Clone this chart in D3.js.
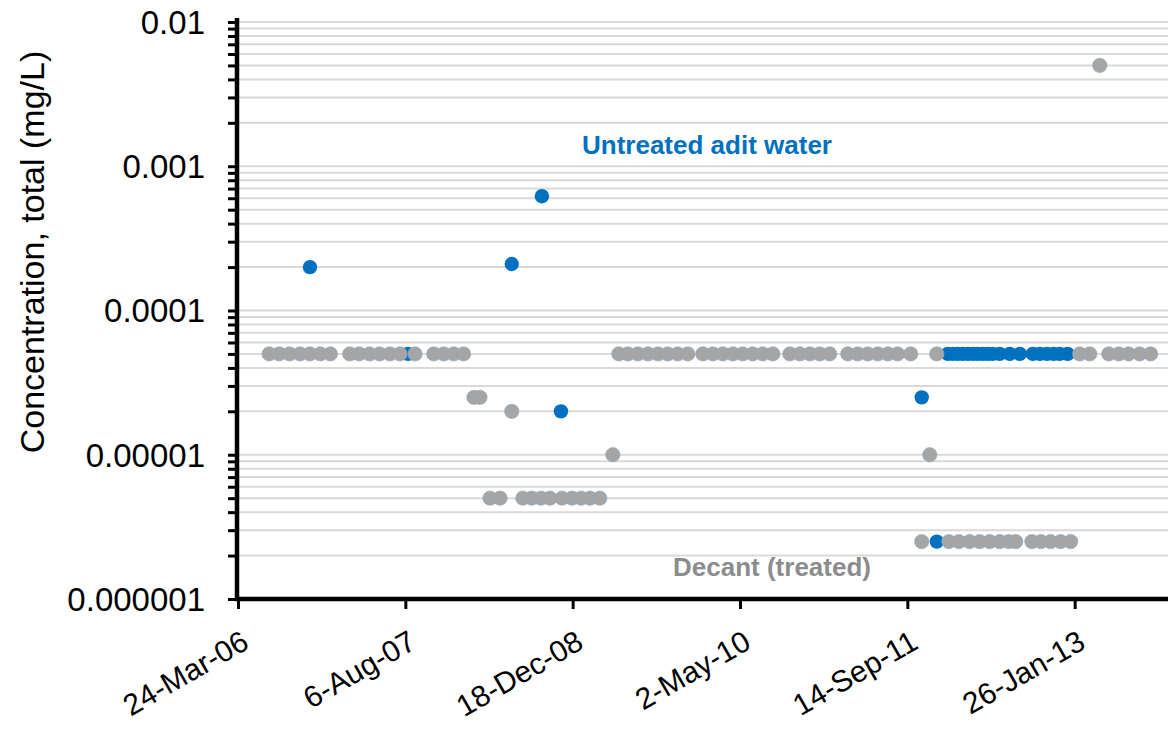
<!DOCTYPE html>
<html>
<head>
<meta charset="utf-8">
<script src="https://cdn.jsdelivr.net/npm/d3@7"></script>
<style>
  html, body { margin: 0; padding: 0; background: #fff; }
  svg { display: block; }
</style>
</head>
<body>
<svg id="chart" width="1168" height="736"></svg>
<script>
// ---- data ----
const untreatedDates = [
  "2006-10-25", "2007-08-14", "2008-06-19", "2008-09-17", "2008-11-13",
  "2011-10-27", "2011-12-11",
  "2012-01-13", "2012-01-28", "2012-02-12", "2012-02-27", "2012-03-13", "2012-03-28",
  "2012-04-11", "2012-04-26", "2012-05-11", "2012-05-26", "2012-06-16", "2012-07-16",
  "2012-08-15", "2012-09-23", "2012-10-14", "2012-11-04", "2012-11-24", "2012-12-12",
  "2013-01-05"
];
const untreatedValues = [
  0.0002, 0.00005, 0.00021, 0.00062, 0.00002,
  0.000025, 0.0000025,
  0.00005, 0.00005, 0.00005, 0.00005, 0.00005, 0.00005,
  0.00005, 0.00005, 0.00005, 0.00005, 0.00005, 0.00005,
  0.00005, 0.00005, 0.00005, 0.00005, 0.00005, 0.00005,
  0.00005
];

const decantDates = [
  "2006-06-25", "2006-07-25", "2006-08-25", "2006-09-25", "2006-10-25", "2006-11-25", "2006-12-25",
  "2007-02-21", "2007-03-21", "2007-04-21", "2007-05-21", "2007-06-21", "2007-07-21",
  "2007-09-04", "2007-10-30", "2007-11-29", "2007-12-29", "2008-01-27",
  "2008-02-27", "2008-03-16",
  "2008-04-15", "2008-05-15",
  "2008-06-19",
  "2008-07-22", "2008-08-18", "2008-09-14", "2008-10-11", "2008-11-16", "2008-12-16",
  "2009-01-12", "2009-02-08", "2009-03-09",
  "2009-04-17",
  "2009-05-05", "2009-06-01", "2009-07-01", "2009-07-31", "2009-08-30", "2009-09-28",
  "2009-10-28", "2009-11-27",
  "2010-01-11", "2010-02-10", "2010-03-12", "2010-04-11", "2010-05-10", "2010-06-09",
  "2010-07-09", "2010-08-08",
  "2010-09-28", "2010-10-28", "2010-11-27", "2010-12-26", "2011-01-25",
  "2011-03-20", "2011-04-19", "2011-05-19", "2011-06-18", "2011-07-18", "2011-08-16",
  "2011-09-24",
  "2011-10-27", "2011-11-20", "2011-12-11",
  "2012-01-16", "2012-02-15", "2012-03-18", "2012-04-17", "2012-05-17", "2012-06-16",
  "2012-07-13", "2012-08-03", "2012-09-20", "2012-10-17", "2012-11-15", "2012-12-15",
  "2013-01-14",
  "2013-02-10", "2013-03-12", "2013-04-11",
  "2013-05-08", "2013-06-07", "2013-07-06", "2013-08-08", "2013-09-10"
];
const decantValues = [
  0.00005, 0.00005, 0.00005, 0.00005, 0.00005, 0.00005, 0.00005,
  0.00005, 0.00005, 0.00005, 0.00005, 0.00005, 0.00005,
  0.00005, 0.00005, 0.00005, 0.00005, 0.00005,
  0.000025, 0.000025,
  0.000005, 0.000005,
  0.00002,
  0.000005, 0.000005, 0.000005, 0.000005, 0.000005, 0.000005,
  0.000005, 0.000005, 0.000005,
  0.00001,
  0.00005, 0.00005, 0.00005, 0.00005, 0.00005, 0.00005,
  0.00005, 0.00005,
  0.00005, 0.00005, 0.00005, 0.00005, 0.00005, 0.00005,
  0.00005, 0.00005,
  0.00005, 0.00005, 0.00005, 0.00005, 0.00005,
  0.00005, 0.00005, 0.00005, 0.00005, 0.00005, 0.00005,
  0.00005,
  0.0000025, 0.00001, 0.00005,
  0.0000025, 0.0000025, 0.0000025, 0.0000025, 0.0000025, 0.0000025,
  0.0000025, 0.0000025, 0.0000025, 0.0000025, 0.0000025, 0.0000025,
  0.0000025,
  0.00005, 0.00005, 0.005,
  0.00005, 0.00005, 0.00005, 0.00005, 0.00005
];

const xDomain = ["2006-03-24", "2014-06-10"];
const xTickLabels = ["24-Mar-06", "6-Aug-07", "18-Dec-08", "2-May-10", "14-Sep-11", "26-Jan-13"];
const yDomain = [0.000001, 0.01];
const yTickLabels = ["0.000001", "0.00001", "0.0001", "0.001", "0.01"];
const seriesLabels = ["Untreated adit water", "Decant (treated)"];
const yTitle = "Concentration, total (mg/L)";

// ---- drawing ----
const parse = d3.utcParse("%Y-%m-%d");
const svg = d3.select("#chart");
const W = 1168, H = 736;
const plot = { left: 237, top: 22, right: 1242, bottom: 599 };

const x = d3.scaleUtc().domain(xDomain.map(parse)).range([plot.left + 1, plot.right]);
const y = d3.scaleLog().domain(yDomain).range([plot.bottom, plot.top]);

const font = "'Liberation Sans', Arial, sans-serif";

// gridlines at every minor/major log tick
const gridVals = y.ticks();
svg.append("g")
  .selectAll("line")
  .data(gridVals)
  .join("line")
  .attr("x1", plot.left)
  .attr("x2", W)
  .attr("y1", d => y(d))
  .attr("y2", d => y(d))
  .attr("stroke", "#d9d9d9")
  .attr("stroke-width", 2);

// points
const untreated = untreatedDates.map((d, i) => ({ date: parse(d), v: untreatedValues[i] }));
const decant = decantDates.map((d, i) => ({ date: parse(d), v: decantValues[i] }));

svg.append("g")
  .selectAll("circle")
  .data(untreated)
  .join("circle")
  .attr("cx", d => x(d.date))
  .attr("cy", d => y(d.v))
  .attr("r", 7.2)
  .attr("fill", "#0070C0");

svg.append("g")
  .selectAll("circle")
  .data(decant)
  .join("circle")
  .attr("cx", d => x(d.date))
  .attr("cy", d => y(d.v))
  .attr("r", 7.2)
  .attr("fill", "#A5A5A5")
  .attr("stroke", "#8fa8bf")
  .attr("stroke-width", 0.6);

// y axis
const yAxis = d3.axisLeft(y)
  .tickValues(gridVals)
  .tickSize(9)
  .tickFormat(() => "");
const gy = svg.append("g")
  .attr("transform", `translate(${plot.left},0)`)
  .call(yAxis);
gy.select(".domain").remove();
gy.selectAll(".tick line").attr("stroke", "#000").attr("stroke-width", 3);

// y major labels
const majors = yTickLabels.map(Number);
svg.append("g")
  .selectAll("text")
  .data(majors)
  .join("text")
  .attr("x", 205)
  .attr("y", d => y(d))
  .attr("dy", "0.36em")
  .attr("text-anchor", "end")
  .attr("font-family", font)
  .attr("font-size", 33)
  .attr("fill", "#000")
  .text((d, i) => yTickLabels[i]);

svg.append("line")
  .attr("x1", plot.left).attr("x2", plot.left)
  .attr("y1", plot.top - 4).attr("y2", plot.bottom + 2)
  .attr("stroke", "#000").attr("stroke-width", 4.5);

// x axis
const xTickVals = xTickLabels.map(d3.utcParse("%-d-%b-%y"));
const xAxis = d3.axisBottom(x)
  .tickValues(xTickVals)
  .tickSize(10)
  .tickFormat(() => "");
const gx = svg.append("g")
  .attr("transform", `translate(0,${plot.bottom})`)
  .call(xAxis);
gx.select(".domain").remove();
gx.selectAll(".tick line").attr("stroke", "#000").attr("stroke-width", 3);

svg.append("line")
  .attr("x1", plot.left - 2).attr("x2", W)
  .attr("y1", plot.bottom).attr("y2", plot.bottom)
  .attr("stroke", "#000").attr("stroke-width", 4.5);

svg.append("g")
  .selectAll("text")
  .data(xTickVals)
  .join("text")
  .attr("transform", d => `translate(${x(d) + 2},${plot.bottom + 30}) rotate(-30)`)
  .attr("text-anchor", "end")
  .attr("dy", "0.71em")
  .attr("font-family", font)
  .attr("font-size", 30)
  .attr("fill", "#000")
  .text((d, i) => xTickLabels[i]);

// y title
svg.append("text")
  .attr("transform", `translate(44,252) rotate(-90)`)
  .attr("text-anchor", "middle")
  .attr("font-family", font)
  .attr("font-size", 34)
  .attr("fill", "#000")
  .text(yTitle);

// series labels
svg.append("text")
  .attr("x", 707).attr("y", 154)
  .attr("text-anchor", "middle")
  .attr("font-family", font)
  .attr("font-weight", "bold")
  .attr("font-size", 26)
  .attr("fill", "#0070C0")
  .text(seriesLabels[0]);

svg.append("text")
  .attr("x", 772).attr("y", 576)
  .attr("text-anchor", "middle")
  .attr("font-family", font)
  .attr("font-weight", "bold")
  .attr("font-size", 26)
  .attr("fill", "#8c8c8c")
  .text(seriesLabels[1]);
</script>
</body>
</html>
